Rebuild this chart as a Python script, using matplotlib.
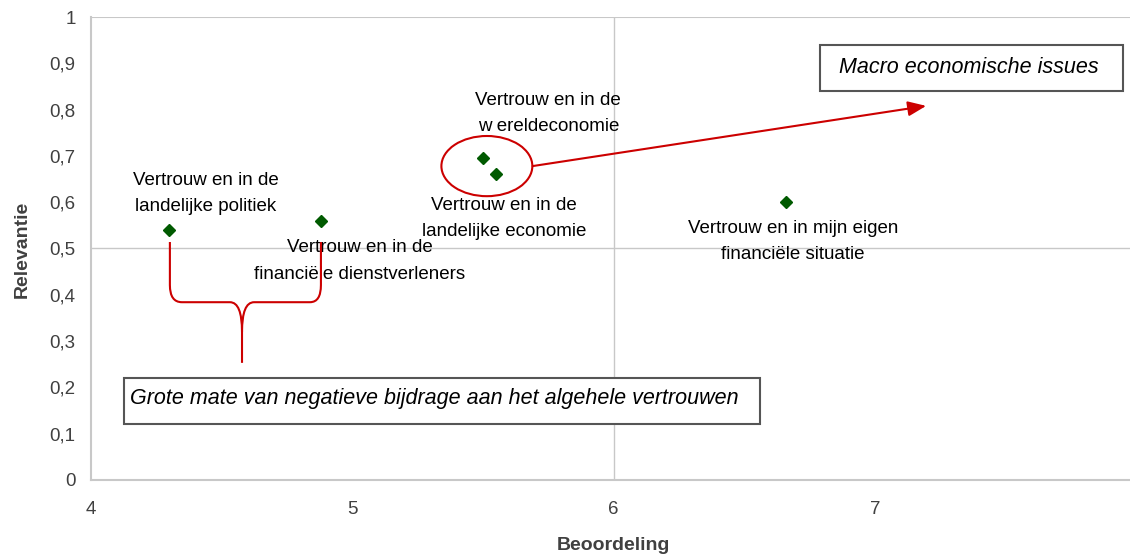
import matplotlib.pyplot as plt
from matplotlib.patches import Ellipse, PathPatch, Rectangle
from matplotlib.path import Path

plt.rcParams['font.family'] = ['Liberation Sans', 'DejaVu Sans']

# data
labels = ["Vertrouw en in de\nlandelijke politiek",
          "Vertrouw en in de\nfinanciële dienstverleners",
          "Vertrouw en in de\nw ereldeconomie",
          "Vertrouw en in de\nlandelijke economie",
          "Vertrouw en in mijn eigen\nfinanciële situatie"]
beoordeling = [4.30, 4.88, 5.50, 5.55, 6.66]
relevantie = [0.54, 0.56, 0.695, 0.66, 0.60]
x_ticks = [4, 5, 6, 7]
y_ticks = [0, 0.1, 0.2, 0.3, 0.4, 0.5, 0.6, 0.7, 0.8, 0.9, 1]
y_ticklabels = ["0", "0,1", "0,2", "0,3", "0,4", "0,5", "0,6", "0,7", "0,8", "0,9", "1"]

# label offsets in points (dx, dy) relative to each point
offsets = [(26, 26.5), (28, -29), (47, 32), (6, -31.5), (5, -28.5)]

fig = plt.figure(figsize=(11.3, 5.54), dpi=100)
ax = fig.add_axes([0.0805, 0.1336, 0.9195, 0.8357])

grey = "#c8c8c8"
ax.axhline(0.5, color=grey, lw=1, zorder=0)
ax.axhline(1.0, color=grey, lw=1.5, zorder=0)
ax.axvline(6, color=grey, lw=1, zorder=0)

ax.plot(beoordeling, relevantie, linestyle="none", marker="D", markersize=6.5,
        color="#005a00", zorder=3)

for i in range(len(labels)):
    ax.annotate(labels[i], (beoordeling[i], relevantie[i]), xytext=offsets[i],
                textcoords="offset points", ha="center", va="center",
                fontsize=13.5, color="black", linespacing=1.7)

ax.set_xlim(4, 7.976)
ax.set_ylim(0, 1)
ax.set_xticks(x_ticks)
ax.set_yticks(y_ticks)
ax.set_yticklabels(y_ticklabels)
ax.tick_params(length=0, labelsize=13.5, labelcolor="#404040")
ax.tick_params(axis="y", pad=11)
ax.tick_params(axis="x", pad=15)
for s in ["top", "right"]:
    ax.spines[s].set_visible(False)
for s in ["left", "bottom"]:
    ax.spines[s].set_color(grey)
    ax.spines[s].set_linewidth(1.5)

fig.text(0.0195, 0.55, "Relevantie", rotation=90, ha="center", va="center",
         fontsize=14, fontweight="bold", color="#404040")
fig.text(0.5425, 0.016, "Beoordeling", ha="center", va="center",
         fontsize=14, fontweight="bold", color="#404040")

red = "#cc0000"

# ellipse round the two economy points with arrow to the label
ax.add_patch(Ellipse((5.515, 0.678), 0.348, 0.13, fill=False, edgecolor=red, lw=1.5, zorder=4))
ax.annotate("", xy=(7.196, 0.808), xytext=(5.69, 0.678),
            arrowprops=dict(arrowstyle="-|>,head_length=1.1,head_width=0.45",
                            color=red, lw=1.5, shrinkA=0, shrinkB=0))

ax.add_patch(Rectangle((6.790, 0.840), 1.160, 0.100, facecolor="white",
                       edgecolor="#555555", lw=1.5, zorder=5))
ax.text(7.360, 0.892, "Macro economische issues", ha="center", va="center",
        fontsize=15.5, style="italic", zorder=6)

# curly brace below the two left points
verts = [(4.302, 0.514), (4.302, 0.421),
         (4.302, 0.384), (4.348, 0.384),
         (4.532, 0.384),
         (4.578, 0.384), (4.578, 0.320),
         (4.578, 0.253),
         (4.578, 0.320),
         (4.578, 0.384), (4.624, 0.384),
         (4.838, 0.384),
         (4.880, 0.384), (4.880, 0.421),
         (4.880, 0.514)]
codes = [Path.MOVETO, Path.LINETO,
         Path.CURVE3, Path.CURVE3,
         Path.LINETO,
         Path.CURVE3, Path.CURVE3,
         Path.LINETO,
         Path.MOVETO,
         Path.CURVE3, Path.CURVE3,
         Path.LINETO,
         Path.CURVE3, Path.CURVE3,
         Path.LINETO]
ax.add_patch(PathPatch(Path(verts, codes), fill=False, edgecolor=red, lw=1.5, zorder=4))

ax.add_patch(Rectangle((4.126, 0.121), 2.434, 0.099, facecolor="white",
                       edgecolor="#555555", lw=1.5, zorder=5))
ax.text(4.149, 0.177, "Grote mate van negatieve bijdrage aan het algehele vertrouwen",
        ha="left", va="center", fontsize=15.5, style="italic", zorder=6)

fig.savefig("out.png", dpi=100)
